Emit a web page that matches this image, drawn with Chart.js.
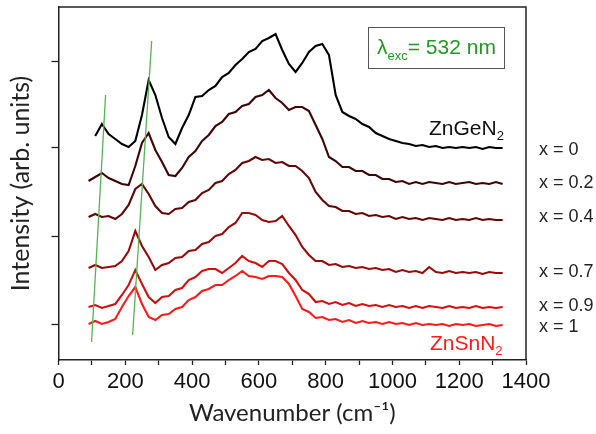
<!DOCTYPE html>
<html>
<head>
<meta charset="utf-8">
<script src="https://cdn.jsdelivr.net/npm/chart.js@4.4.0/dist/chart.umd.min.js"></script>
<style>
  html, body { margin: 0; padding: 0; background: #fff; }
  #wrap { width: 596px; height: 434px; }
</style>
</head>
<body>
<div id="wrap"><canvas id="raman"></canvas></div>
<script>
// Raman wavenumbers (cm-1) shared by all spectra
const wavenumbers = [90, 110, 130, 150, 170, 190, 210, 230, 250, 270, 290, 310, 330, 350, 370, 390, 410, 430, 450, 470,
  490, 510, 530, 550, 570, 590, 610, 630, 650, 670, 690, 710, 730, 750, 770, 790, 810, 830, 850, 870,
  890, 910, 930, 950, 970, 990, 1010, 1030, 1050, 1070, 1090, 1110, 1130, 1150, 1170, 1190, 1210, 1230, 1250, 1270,
  1290, 1310, 1330];

// Offset intensities (arb. units), top spectrum first
const x0 = [null, 229, 241, 231, 226, 221, 218, 224, 250, 285, 270, 247, 228, 221, 237, 250, 268, 269, 275, 279,
  288, 292, 300, 306, 313, 316, 324, 327, 331, 315, 301, 293, 302, 313, 319, 321, 310, 270, 253, 249,
  246, 241, 238, 232, 229, 226, 224, 222, 221, 219, 220, 218, 219, 217, 218, 217, 218, 217, 218, 216,
  218, 217, 217];
const x02 = [184, 188, 192, 187, 184, 181, 180, 199, 222, 232, 215, 203, 190, 189, 197, 208, 214, 224, 230, 239,
  243, 251, 253, 259, 261, 268, 270, 275, 267, 262, 255, 258, 258, 254, 240, 226, 208, 204, 198, 198,
  194, 194, 190, 190, 186, 186, 183, 184, 181, 183, 181, 183, 182, 181, 183, 181, 182, 183, 181, 182,
  181, 183, 181];
const x04 = [148, 151, 148, 149, 146, 151, 160, 176, 181, 171, 159, 152, 151, 156, 157, 163, 165, 172, 175, 182,
  184, 191, 195, 202, 204, 208, 205, 206, 202, 203, 199, 199, 194, 187, 173, 165, 159, 158, 154, 154,
  151, 152, 149, 150, 148, 149, 146, 148, 146, 147, 145, 147, 146, 145, 147, 145, 146, 145, 147, 145,
  146, 145, 145];
const x07 = [97, 100, 97, 98, 99, 104, 114, 134, 119, 108, 95, 100, 102, 107, 108, 114, 115, 121, 123, 129,
  131, 138, 142, 152, 152, 150, 145, 143, 144, 149, 139, 130, 118, 110, 104, 104, 100, 101, 98, 99,
  97, 98, 96, 97, 95, 96, 93, 95, 93, 94, 92, 98, 93, 92, 94, 92, 93, 92, 93, 91,
  93, 92, 92];
const x09 = [58, 60, 57, 59, 61, 70, 80, 95, 81, 68, 62, 68, 69, 75, 77, 85, 88, 94, 96, 96,
  92, 97, 102, 109, 104, 102, 98, 104, 104, 101, 92, 85, 75, 71, 63, 64, 61, 63, 60, 62,
  59, 61, 59, 60, 58, 60, 58, 59, 57, 59, 57, 59, 58, 57, 59, 57, 58, 57, 59, 57,
  58, 57, 58];
const x1 = [41, 44, 41, 43, 46, 58, 69, 78, 61, 48, 45, 50, 51, 56, 58, 65, 68, 74, 76, 80,
  80, 85, 89, 94, 89, 88, 86, 89, 89, 88, 81, 69, 56, 53, 47, 48, 45, 46, 43, 45,
  42, 44, 42, 43, 41, 43, 41, 42, 40, 42, 40, 41, 40, 41, 39, 41, 40, 41, 39, 40,
  41, 39, 40];

const seriesNames = ['x = 0', 'x = 0.2', 'x = 0.4', 'x = 0.7', 'x = 0.9', 'x = 1'];
const seriesValues = [x0, x02, x04, x07, x09, x1];
const seriesColors = ['#000000', '#3f0505', '#620707', '#970a0a', '#d50f0f', '#ff1a1a'];
const labelY = [150, 183, 217, 272, 306, 327];

// green guide lines (wavenumber, intensity) end points
const guideA_x = [99, 141];
const guideA_y = [23, 270];
const guideB_x = [222, 279];
const guideB_y = [30, 324];

const xTickLabels = [0, 200, 400, 600, 800, 1000, 1200, 1400];
const yTicks = [41, 129, 217, 304];

const datasets = [];
[[guideA_x, guideA_y], [guideB_x, guideB_y]].forEach(g => {
  datasets.push({
    data: g[0].map((x, i) => ({ x: x, y: g[1][i] })),
    borderColor: '#55b455',
    borderWidth: 1.3,
    pointRadius: 0,
    order: 0
  });
});
seriesValues.forEach((vals, k) => {
  datasets.push({
    label: seriesNames[k],
    data: wavenumbers.map((w, i) => ({ x: w, y: vals[i] })),
    borderColor: seriesColors[k],
    borderWidth: 2.1,
    pointRadius: 0,
    tension: 0,
    order: 1
  });
});

function subText(ctx, x, y, parts) {
  // parts: [text, font, dy]
  parts.forEach(p => {
    ctx.font = p[1];
    ctx.fillText(p[0], x, y + p[2]);
    x += ctx.measureText(p[0]).width;
  });
}

const annotations = {
  id: 'annotations',
  afterDraw(chart) {
    const ctx = chart.ctx;
    const a = chart.chartArea;
    ctx.save();
    // frame top and right
    ctx.strokeStyle = '#222';
    ctx.lineWidth = 1.5;
    ctx.beginPath();
    ctx.moveTo(a.left, a.top);
    ctx.lineTo(a.right, a.top);
    ctx.lineTo(a.right, a.bottom);
    ctx.stroke();

    // composition labels
    ctx.fillStyle = '#222';
    ctx.font = '18px "Liberation Sans", Arial, sans-serif';
    ctx.textBaseline = 'middle';
    ctx.textAlign = 'left';
    seriesNames.forEach((n, i) => ctx.fillText(n, 539, labelY[i]));

    ctx.textBaseline = 'alphabetic';
    ctx.fillStyle = '#111';
    subText(ctx, 429, 135, [['ZnGeN', '21px "Liberation Sans", Arial, sans-serif', 0], ['2', '13px "Liberation Sans", Arial, sans-serif', 5]]);
    ctx.fillStyle = '#ff1a1a';
    subText(ctx, 430, 350, [['ZnSnN', '21px "Liberation Sans", Arial, sans-serif', 0], ['2', '13px "Liberation Sans", Arial, sans-serif', 5]]);

    // excitation box
    ctx.strokeStyle = '#555';
    ctx.lineWidth = 1;
    ctx.strokeRect(368.5, 27.5, 136, 41);
    ctx.fillStyle = '#1f9a1f';
    subText(ctx, 377, 54, [['λ', '21px "Liberation Sans", Arial, sans-serif', 0], ['exc', '13px "Liberation Sans", Arial, sans-serif', 6], ['= 532 nm', '21px "Liberation Sans", Arial, sans-serif', 0]]);
    ctx.restore();
  }
};

new Chart(document.getElementById('raman'), {
  type: 'line',
  data: { datasets: datasets },
  options: {
    responsive: true,
    maintainAspectRatio: false,
    animation: false,
    layout: { padding: { top: 7, right: 70, left: 0, bottom: 0 } },
    plugins: { legend: { display: false }, tooltip: { enabled: false } },
    scales: {
      x: {
        type: 'linear',
        min: 0,
        max: 1400,
        afterFit: s => { s.height = 74; },
        ticks: {
          stepSize: 100,
          autoSkip: false,
          maxRotation: 0,
          padding: 4,
          color: '#111',
          font: { family: '"Liberation Sans", Arial, sans-serif', size: 22 },
          callback: v => xTickLabels.includes(v) ? String(v) : ''
        },
        grid: { drawOnChartArea: false, tickLength: 5, color: '#222', tickWidth: 1.3 },
        border: { color: '#222', width: 1.5 },
        title: {
          display: true,
          text: 'Wavenumber (cm⁻¹)',
          color: '#222',
          font: { family: 'Lato, "Open Sans", sans-serif', size: 24 },
          padding: { top: 0, bottom: 6 }
        }
      },
      y: {
        min: 5,
        max: 358,
        afterFit: s => { s.width = 58.5; },
        afterBuildTicks: s => { s.ticks = yTicks.map(v => ({ value: v })); },
        ticks: { display: false },
        grid: { drawOnChartArea: false, tickLength: 7, color: '#222', tickWidth: 1.3 },
        border: { color: '#222', width: 1.5 },
        title: {
          display: true,
          text: 'Intensity (arb. units)',
          color: '#222',
          font: { family: 'Lato, "Open Sans", sans-serif', size: 25 },
          padding: { top: 6, bottom: 0 }
        }
      }
    }
  },
  plugins: [annotations]
});
</script>
</body>
</html>
